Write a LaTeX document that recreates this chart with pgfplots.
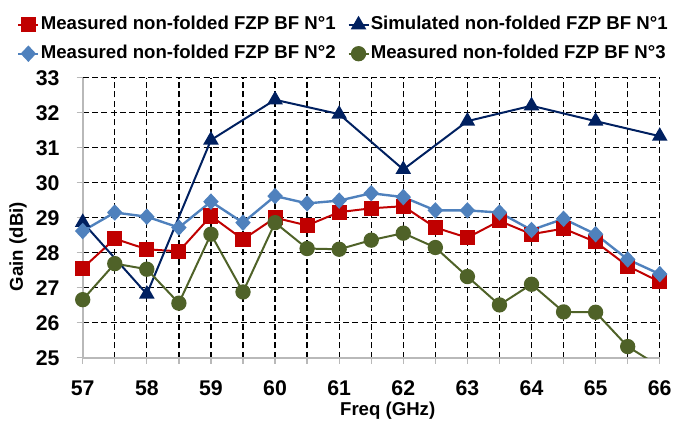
\documentclass[border=0pt]{standalone}
\usepackage{pgfplots}
\pgfplotsset{compat=1.18}
\usepackage{fontspec}
\setmainfont{Liberation Sans}

\definecolor{mred}{RGB}{192,0,0}
\definecolor{navy}{RGB}{0,32,96}
\definecolor{lblue}{RGB}{79,129,189}
\definecolor{olive}{RGB}{79,98,40}

\begin{document}
\begin{tikzpicture}
\begin{axis}[
  name=ax,
  scale only axis,
  width=434.25pt, height=210.75pt,
  xmin=57, xmax=66, ymin=25, ymax=33,
  xtick={57,...,66},
  minor xtick={57.5,58.5,...,65.5},
  ytick={25,...,33},
  grid=both,
  major grid style={black, line width=1pt, dash pattern=on 4.5pt off 2.5pt},
  minor grid style={black, line width=1pt, dash pattern=on 4.5pt off 2.5pt},
  axis x line*=bottom, axis y line*=left,
  axis line style={gray!55, line width=1.3pt},
  tick style={gray!55, line width=1pt},
  tick align=outside,
  major tick length=4.5pt, minor tick length=4.5pt,
  tick label style={font=\fontsize{16}{18}\selectfont\bfseries},
  /pgf/number format/assume math mode=true,
  xticklabel style={yshift=-9pt},
  yticklabel style={xshift=-9.5pt},
  xlabel={Freq (GHz)},
  ylabel={Gain (dBi)},
  label style={font=\fontsize{14}{16}\selectfont\bfseries},
  xlabel style={at={(axis description cs:0.5285,-0.189)}, anchor=center},
  ylabel style={at={(axis description cs:-0.112,0.397)}, anchor=center},
  legend columns=2,
  legend cell align=left,
  legend image code/.code={
    \draw[mark repeat=2,mark phase=2] plot coordinates {(0pt,0pt) (7.5pt,0pt) (15pt,0pt)};},
  legend style={
    at={(axis description cs:-0.114,1.222)}, anchor=north west,
    draw=none, fill=none, inner sep=0pt, row sep=8.25pt,
    font=\fontsize{14}{16}\selectfont\bfseries,
    nodes={inner sep=0pt, text height=10.3pt, text depth=3.2pt},
    /tikz/every odd column/.append style={column sep=1pt},
    /tikz/every even column/.append style={column sep=9pt}},
]
\addplot[mred, line width=1.5pt, mark=square*, mark size=4.9pt] coordinates {
  (57,27.56) (57.5,28.40) (58,28.10) (58.5,28.04) (59,29.05) (59.5,28.38)
  (60,29.00) (60.5,28.78) (61,29.16) (61.5,29.27) (62,29.33) (62.5,28.72)
  (63,28.43) (63.5,28.91) (64,28.53) (64.5,28.69) (65,28.31) (65.5,27.62)
  (66,27.17)};
\addlegendentry{Measured non-folded FZP BF N°1}
\addplot[navy, line width=1.5pt, mark=triangle*, mark size=5.3pt] coordinates {
  (57,28.87) (58,26.82) (59,31.22) (60,32.37) (61,31.96) (62,30.38)
  (63,31.76) (64,32.20) (65,31.76) (66,31.33)};
\addlegendentry{Simulated non-folded FZP BF N°1}
\addplot[lblue, line width=1.8pt, mark=diamond*, mark size=4.9pt, mark options={xscale=1.25}] coordinates {
  (57,28.62) (57.5,29.15) (58,29.03) (58.5,28.72) (59,29.46) (59.5,28.86)
  (60,29.62) (60.5,29.41) (61,29.49) (61.5,29.70) (62,29.59) (62.5,29.21)
  (63,29.21) (63.5,29.15) (64,28.65) (64.5,28.97) (65,28.53) (65.5,27.81)
  (66,27.39)};
\addlegendentry{Measured non-folded FZP BF N°2}
\addplot[olive, line width=1.5pt, mark=*, mark size=5pt] coordinates {
  (57,26.66) (57.5,27.69) (58,27.53) (58.5,26.56) (59,28.53) (59.5,26.88)
  (60,28.86) (60.5,28.12) (61,28.10) (61.5,28.36) (62,28.56) (62.5,28.15)
  (63,27.32) (63.5,26.51) (64,27.10) (64.5,26.31) (65,26.30) (65.5,25.32)
  (66,24.75)};
\addlegendentry{Measured non-folded FZP BF N°3}
\end{axis}
\path ([shift={(-62.25pt,-46.5pt)}]ax.south west) rectangle ([shift={(10.5pt,58.5pt)}]ax.north east);
\end{tikzpicture}
\end{document}
